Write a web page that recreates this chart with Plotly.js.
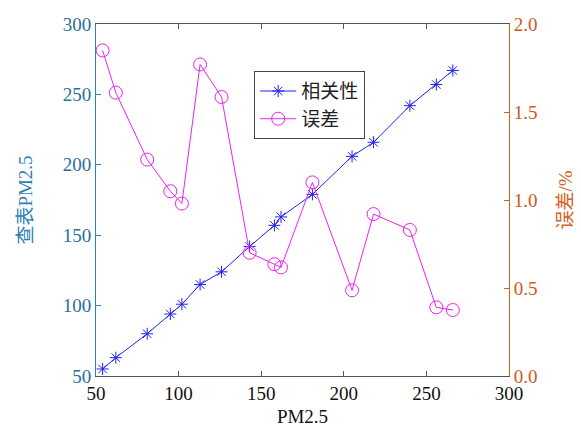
<!DOCTYPE html>
<html><head><meta charset="utf-8">
<script src="https://cdn.plot.ly/plotly-3.0.1.min.js"></script>
<style>html,body{margin:0;padding:0;background:#fff}#chart{width:581px;height:431px}</style>
</head><body><div id="chart"></div>
<script>
const pm25 = [54, 62, 81, 95, 102, 113, 126, 143, 158, 162, 181, 205, 218, 240, 256, 266];
const lookupPM25 = [55, 63, 80, 94, 101, 115, 124, 142, 157, 163, 179, 206, 216, 242, 257, 267];
const errorPct = [1.85, 1.61, 1.23, 1.05, 0.98, 1.77, 1.585, 0.70, 0.635, 0.617, 1.10, 0.487, 0.92, 0.83, 0.39, 0.375];
const seriesNames = ['相关性', '误差'];

const serif = "Liberation Serif";
const serifCJK = "Liberation Serif, Noto Sans CJK SC";
const blueAx = '#2f80c0';
const orangeAx = '#d3611f';

const traces = [
  {x: pm25, y: lookupPM25, name: seriesNames[0], type: 'scatter', mode: 'lines+markers',
   line: {color: '#2222ee', width: 1}, marker: {symbol: 'asterisk-open', size: 10, color: '#2222ee', line: {color: '#2222ee', width: 1}}},
  {x: pm25, y: errorPct, name: seriesNames[1], type: 'scatter', mode: 'lines+markers', yaxis: 'y2',
   line: {color: '#ee22ee', width: 1}, marker: {symbol: 'circle-open', size: 13, color: '#ee22ee', line: {color: '#ee22ee', width: 1}}}
];

const layout = {
  width: 581, height: 431,
  margin: {l: 96, r: 72, t: 24, b: 55},
  paper_bgcolor: '#fff', plot_bgcolor: '#fff',
  font: {family: serif, size: 19, color: '#222'},
  showlegend: true,
  legend: {x: 0.383, y: 0.866, xanchor: 'left', yanchor: 'top', bgcolor: '#fff', bordercolor: '#444', borderwidth: 1,
           itemwidth: 36,
           font: {family: "Noto Sans CJK SC", size: 19, color: '#222'}, tracegroupgap: 0},
  xaxis: {range: [50, 300], dtick: 50, tick0: 50, showgrid: false, zeroline: false,
          showline: true, linecolor: '#555', linewidth: 1, mirror: 'ticks',
          ticks: 'inside', ticklen: 5, tickcolor: '#555',
          tickfont: {family: serif, size: 19, color: '#111'},
          title: {text: 'PM2.5', font: {family: serif, size: 19, color: '#111'}, standoff: 6}},
  yaxis: {range: [50, 300], dtick: 50, tick0: 50, showgrid: false, zeroline: false,
          showline: true, linecolor: blueAx, linewidth: 1,
          ticks: 'inside', ticklen: 5, tickcolor: blueAx,
          tickfont: {family: serif, size: 19, color: '#2a6e9e'},
          title: {text: '查表PM2.5', font: {family: serifCJK, size: 19, color: '#2f7fb5'}, standoff: 25}},
  yaxis2: {range: [0, 2], dtick: 0.5, tick0: 0, tickformat: '.1f', overlaying: 'y', side: 'right',
           showgrid: false, zeroline: false, showline: true, linecolor: orangeAx, linewidth: 1,
           ticks: 'inside', ticklen: 5, tickcolor: orangeAx,
           tickfont: {family: serif, size: 19, color: '#cc5a1c'},
           title: {text: '误差/%', font: {family: serifCJK, size: 19, color: '#d3611f'}, standoff: 22}}
};

Plotly.newPlot('chart', traces, layout, {displayModeBar: false, staticPlot: true});
</script></body></html>
